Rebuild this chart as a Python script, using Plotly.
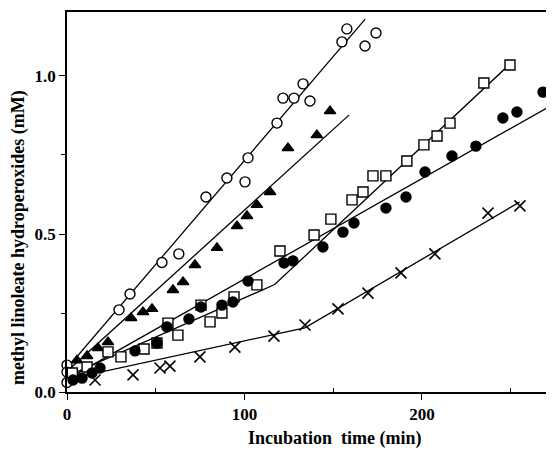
import plotly.graph_objects as go

# ---- data ----
circ_open_x = [0, 0, 0, 29.3, 35.5, 53.5, 63, 78.3, 90.1, 100.3, 102, 118.3, 121.7, 127.9, 133, 136.9, 154.9, 157.7, 167.9, 174.1]
circ_open_y = [0.085, 0.063, 0.03, 0.26, 0.31, 0.41, 0.437, 0.617, 0.677, 0.665, 0.741, 0.851, 0.93, 0.93, 0.975, 0.921, 1.108, 1.149, 1.095, 1.136]
circ_open_fit_x = [0, 168]
circ_open_fit_y = [0.075, 1.18]

tri_x = [5.6, 11.3, 17.5, 23.1, 36.1, 42.8, 47.9, 59.7, 65.4, 72.1, 84.5, 95.8, 101.4, 107, 114.4, 124.5, 140.8, 148.2]
tri_y = [0.10, 0.114, 0.139, 0.158, 0.234, 0.253, 0.263, 0.323, 0.348, 0.402, 0.456, 0.525, 0.557, 0.592, 0.633, 0.772, 0.813, 0.889]
tri_fit_x = [0, 159]
tri_fit_y = [0.065, 0.877]

sq_x = [3, 11.3, 23.1, 30.4, 43.4, 50.7, 56.9, 62.5, 75.5, 80.6, 87.3, 94.1, 107, 120, 139.2, 148.7, 160.6, 166.8, 172.4, 179.7, 191.5, 201.1, 208.5, 215.8, 234.9, 249.6]
sq_y = [0.06, 0.079, 0.127, 0.111, 0.136, 0.155, 0.218, 0.18, 0.275, 0.222, 0.25, 0.301, 0.339, 0.446, 0.497, 0.547, 0.608, 0.633, 0.684, 0.684, 0.731, 0.782, 0.81, 0.851, 0.978, 1.035]
sq_fit_x = [0, 117, 250]
sq_fit_y = [0.05, 0.34, 1.04]

dot_x = [3.4, 8.5, 14.1, 18.6, 38.3, 50.7, 56.3, 68.7, 75.5, 87.3, 93.5, 102, 122.3, 127.3, 144.2, 155.5, 161.7, 179.7, 191, 201.7, 216.9, 230.4, 245.6, 253.5, 268.2]
dot_y = [0.038, 0.044, 0.06, 0.076, 0.13, 0.155, 0.206, 0.231, 0.269, 0.275, 0.285, 0.351, 0.408, 0.415, 0.459, 0.506, 0.535, 0.582, 0.617, 0.696, 0.747, 0.778, 0.867, 0.886, 0.949]
dot_fit_x = [0, 270.4]
dot_fit_y = [0.04, 0.899]

cross_x = [15.8, 37.2, 52.4, 58, 74.9, 94.6, 116.6, 134.1, 152.7, 169.6, 188.2, 207.3, 237.2, 255.2]
cross_y = [0.038, 0.054, 0.076, 0.082, 0.111, 0.142, 0.177, 0.212, 0.263, 0.313, 0.377, 0.437, 0.566, 0.589]
cross_fit_x = [0, 134, 255]
cross_fit_y = [0.04, 0.203, 0.601]

x_ticks = [0, 100, 200]
x_tick_labels = ["0", "100", "200"]
y_ticks = [0.0, 0.5, 1.0]
y_tick_labels = ["0.0", "0.5", "1.0"]

FONT = "Liberation Serif"
fig = go.Figure()

def add_fit(xs, ys):
    fig.add_trace(go.Scatter(x=xs, y=ys, mode="lines",
                             line=dict(color="black", width=1.3),
                             showlegend=False, hoverinfo="skip"))

for fx, fy in [(circ_open_fit_x, circ_open_fit_y), (tri_fit_x, tri_fit_y),
               (sq_fit_x, sq_fit_y), (dot_fit_x, dot_fit_y),
               (cross_fit_x, cross_fit_y)]:
    add_fit(fx, fy)

def add_pts(xs, ys, symbol, size, filled):
    fig.add_trace(go.Scatter(
        x=xs, y=ys, mode="markers", cliponaxis=False, showlegend=False,
        marker=dict(symbol=symbol, size=size,
                    color="black" if filled else "white",
                    line=dict(color="black", width=1.4))))

add_pts(circ_open_x, circ_open_y, "circle", 10, False)
add_pts(tri_x, tri_y, "triangle-up", 10, True)
add_pts(sq_x, sq_y, "square", 10, False)
add_pts(dot_x, dot_y, "circle", 10, True)
fig.add_trace(go.Scatter(
    x=cross_x, y=cross_y, mode="markers", cliponaxis=False, showlegend=False,
    marker=dict(symbol="x-thin-open", size=11, color="black",
                line=dict(color="black", width=1.6))))

# page body has an 8px margin: size the figure so it fills the rest of the window
fig.update_layout(
    width=546, height=445,
    margin=dict(l=59, r=0, t=4, b=61, autoexpand=False),
    paper_bgcolor="white", plot_bgcolor="white",
    font=dict(family=FONT, color="black"),
    xaxis=dict(range=[0, 274.4], tickvals=x_ticks,
               ticktext=["<b>%s</b>" % t for t in x_tick_labels],
               ticks="outside", ticklen=6, automargin=False,
               tickwidth=1.2, tickcolor="black", showline=True, linecolor="black",
               linewidth=1.5, mirror=True, showgrid=False, zeroline=False,
               tickfont=dict(family=FONT, size=17, color="black"),
               minor=dict(tickvals=[50, 150, 250], ticks="inside", ticklen=4,
                          tickcolor="black")),
    yaxis=dict(range=[0, 1.2025], tickvals=y_ticks,
               ticktext=["<b>%s</b>" % t for t in y_tick_labels],
               ticks="outside", ticklen=6, tickwidth=1.2, tickcolor="black",
               automargin=False,
               showline=True, linecolor="black", linewidth=1.5, showgrid=False,
               zeroline=False, tickfont=dict(family=FONT, size=17, color="black"),
               minor=dict(tickvals=[0.25, 0.75], ticks="outside", ticklen=4,
                          tickcolor="black")),
)

fig.add_annotation(text="<b>Incubation  time (min)</b>", xref="paper", yref="paper",
                   x=(335 - 67) / 487, y=-(438 - 392) / 380, showarrow=False,
                   font=dict(family=FONT, size=18, color="black"),
                   xanchor="center", yanchor="middle")
fig.add_annotation(text="<b>methyl linoleate hydroperoxides (mM)</b>", xref="paper", yref="paper",
                   x=-(67 - 18) / 487, y=(392 - 238) / 380, showarrow=False, textangle=-90,
                   font=dict(family=FONT, size=18, color="black"),
                   xanchor="center", yanchor="middle")

fig.write_html("out.html")
